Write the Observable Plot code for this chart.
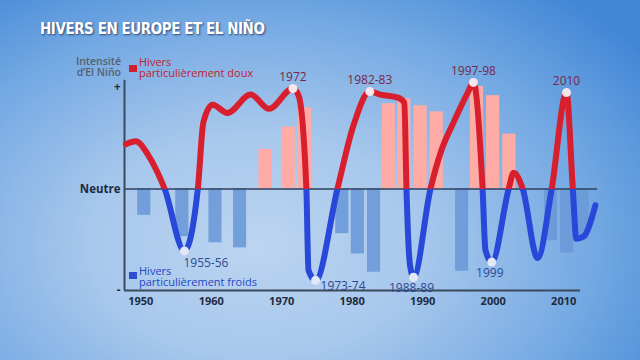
<!DOCTYPE html>
<html><head><meta charset="utf-8">
<script src="https://cdn.jsdelivr.net/npm/d3@7"></script>
<script src="https://cdn.jsdelivr.net/npm/@observablehq/plot@0.6"></script>
<style>
html,body{margin:0;padding:0;}
#wrap{position:relative;width:640px;height:360px;overflow:hidden;
 background: radial-gradient(ellipse 75% 90% at 40% 68%, #bcd5f0 0%, #a7c7ec 35%, #74a9e3 70%, #4287d6 100%);}
#chart{position:absolute;left:0;top:0;}
.t{position:absolute;font-family:"Open Sans",sans-serif;white-space:nowrap;line-height:11px;}
#title{left:40px;top:21px;color:#fff;font-weight:bold;font-size:15px;letter-spacing:-0.45px;font-family:"DejaVu Sans Condensed","DejaVu Sans",sans-serif;text-shadow:1px 1px 2px rgba(20,40,80,.75);line-height:16px;}
#intens{right:519px;top:56px;text-align:right;color:#55606c;font-size:10.5px;font-weight:600;}
.sq{position:absolute;width:8px;height:7px;}
#warm{left:139px;top:56px;color:#c41c30;font-size:11px;}
#cold{left:139px;top:265px;color:#2448c4;font-size:11px;}
</style></head>
<body><div id="wrap">
<div id="chart"></div>
<div class="t" id="title">HIVERS EN EUROPE ET EL NIÑO</div>
<div class="t" id="intens">Intensité<br>d’El Niño</div>
<div class="sq" style="left:129px;top:65px;background:#d4202e"></div>
<div class="t" id="warm">Hivers<br>particulièrement doux</div>
<div class="sq" style="left:129px;top:272px;background:#2a4fd0"></div>
<div class="t" id="cold">Hivers<br>particulièrement froids</div>
</div>
<script>
// Bars: centre year and intensity (+ mild / - cold)
const barYears  = [1950.5, 1955.9, 1960.6, 1964.1, 1967.7, 1971.0, 1973.3, 1978.6, 1980.8, 1983.1, 1985.2, 1987.4, 1989.7, 1992.0, 1995.6, 1997.7, 2000.0, 2002.3, 2008.2, 2010.5, 2012.7];
const barValues = [-0.26, -0.47, -0.53, -0.58, 0.39, 0.61, 0.80, -0.44, -0.64, -0.82, 0.84, 0.89, 0.82, 0.76, -0.81, 1.01, 0.92, 0.54, -0.51, -0.63, -0.49];

// El Niño intensity curve
const curveYears  = [1947.9, 1949.3, 1951.1, 1952.8, 1953.4, 1956.2, 1958.1, 1958.9, 1960.2, 1962.3, 1965.6, 1968.2, 1971.6, 1972.4, 1973.5, 1973.8, 1974.8, 1977.9, 1980.2, 1982.5, 1984.0, 1986.5, 1987.4, 1987.7, 1988.2, 1988.7, 1991.1, 1992.55, 1994.4, 1996.4, 1997.2, 1998.5, 1998.9, 1999.8, 2002.2, 2002.9, 2004.2, 2006.3, 2008.3, 2010.4, 2011.3, 2011.8, 2012.8, 2014.5];
const curveValues = [0.44, 0.47, 0.33, 0.10, 0.00, -0.61, 0.00, 0.66, 0.83, 0.75, 0.93, 0.79, 0.99, 0.92, 0.00, -0.80, -0.90, 0.00, 0.63, 0.96, 0.93, 0.90, 0.85, 0.00, -0.75, -0.87, 0.00, 0.36, 0.66, 0.95, 1.05, 0.00, -0.60, -0.72, 0.00, 0.16, 0.00, -0.68, 0.00, 0.95, 0.00, -0.49, -0.47, -0.16];

// Highlighted winters
const warmLabelYears  = [1971.6, 1982.5, 1997.2, 2010.4];
const warmLabelValues = [0.99, 0.96, 1.05, 0.95];
const warmLabels      = ["1972", "1982-83", "1997-98", "2010"];
const coldLabelYears  = [1956.2, 1974.8, 1988.7, 1999.8];
const coldLabelValues = [-0.61, -0.90, -0.87, -0.72];
const coldLabels      = ["1955-56", "1973-74", "1988-89", "1999"];

const xTicks = [1950, 1960, 1970, 1980, 1990, 2000, 2010];
const yTickValues = [1, 0, -1];
const yTickLabels = ["+", "Neutre", "-"];

const xDomain = [1947.7, 2014.8];
const xAxisEnd = 2012.4;
const yAxisTop = 1.07;

const bars = barYears.map((year, i) => ({year, value: barValues[i]}));
const curve = curveYears.map((year, i) => ({year, value: curveValues[i]}));
const warm = warmLabelYears.map((year, i) => ({year, value: warmLabelValues[i], label: warmLabels[i]}));
const cold = coldLabelYears.map((year, i) => ({year, value: coldLabelValues[i], label: coldLabels[i]}));

const half = 1.0;
const font = "Open Sans, sans-serif";
const RED = "#d81f2e", BLUE = "#2748d8";

const plot = Plot.plot({
  width: 640, height: 360,
  marginLeft: 124, marginRight: 43, marginTop: 87, marginBottom: 70,
  x: {domain: xDomain},
  y: {domain: [-1, 1]},
  style: {background: "transparent", overflow: "visible", fontFamily: font},
  marks: [
    Plot.rect(bars.filter(d => d.value > 0), {x1: d => d.year - half, x2: d => d.year + half, y1: 0, y2: "value", fill: "#ffaca7", insetLeft: 0.5, insetRight: 0.5}),
    Plot.rect(bars.filter(d => d.value < 0), {x1: d => d.year - half, x2: d => d.year + half, y1: 0, y2: "value", fill: "#6b99d8", fillOpacity: 0.9, insetLeft: 0.5, insetRight: 0.5}),
    Plot.ruleY([0], {stroke: "#2c405c", strokeWidth: 1.5}),
    Plot.ruleX([xDomain[0]], {y1: -1, y2: yAxisTop, stroke: "#3a4a5c", strokeWidth: 2}),
    Plot.ruleY([-1], {x1: xDomain[0], x2: xAxisEnd, stroke: "#3a4a5c", strokeWidth: 2}),
    Plot.line(curve, {x: "year", y: "value", curve: "monotone-x", stroke: RED, strokeWidth: 6}),
    Plot.line(curve, {x: "year", y: "value", curve: "monotone-x", stroke: BLUE, strokeWidth: 6}),
    Plot.dot(warm, {x: "year", y: "value", r: 4.5, fill: "#f4e6ec"}),
    Plot.dot(cold, {x: "year", y: "value", r: 4.5, fill: "#e2e8f6"}),
    Plot.text(warm, {x: "year", y: "value", text: "label", dy: -11, fill: "#74284a", fontSize: 12}),
    Plot.text(cold.filter((d, i) => i === 0), {x: "year", y: "value", text: "label", dy: 12, dx: -1, textAnchor: "start", fill: "#2c4a94", fontSize: 12}),
    Plot.text(cold.filter((d, i) => i === 1), {x: "year", y: "value", text: "label", dy: 6, dx: 5, textAnchor: "start", fill: "#2c4a94", fontSize: 12}),
    Plot.text(cold.filter((d, i) => i > 1), {x: "year", y: "value", text: "label", dy: 11, dx: -2, fill: "#2c4a94", fontSize: 12}),
    Plot.axisX({ticks: xTicks, tickSize: 0, tickPadding: 7, tickFormat: d => String(d), fontSize: 11, fontWeight: "bold", fill: "#1d2b40", label: null}),
    Plot.axisY({ticks: yTickValues, tickSize: 0, tickPadding: 4, tickFormat: d => yTickLabels[yTickValues.indexOf(d)], fontSize: 11.5, fontWeight: "bold", fill: "#1d2b40", label: null})
  ]
});

document.getElementById("chart").appendChild(plot);

// colour the curve red above "Neutre" and blue below
const svg = d3.select(plot);
const y0 = plot.scale("y").apply(0);
const defs = svg.insert("defs", ":first-child");
defs.append("clipPath").attr("id", "clipAbove").append("rect").attr("x", 0).attr("y", -100).attr("width", 640).attr("height", y0 + 100);
defs.append("clipPath").attr("id", "clipBelow").append("rect").attr("x", 0).attr("y", y0).attr("width", 640).attr("height", 500);
svg.selectAll("path").each(function() {
  const el = this;
  let s = el.getAttribute("stroke");
  if (!s && el.parentNode) s = el.parentNode.getAttribute("stroke");
  if (s === RED) el.setAttribute("clip-path", "url(#clipAbove)");
  else if (s === BLUE) el.setAttribute("clip-path", "url(#clipBelow)");
});
</script>
</body></html>
